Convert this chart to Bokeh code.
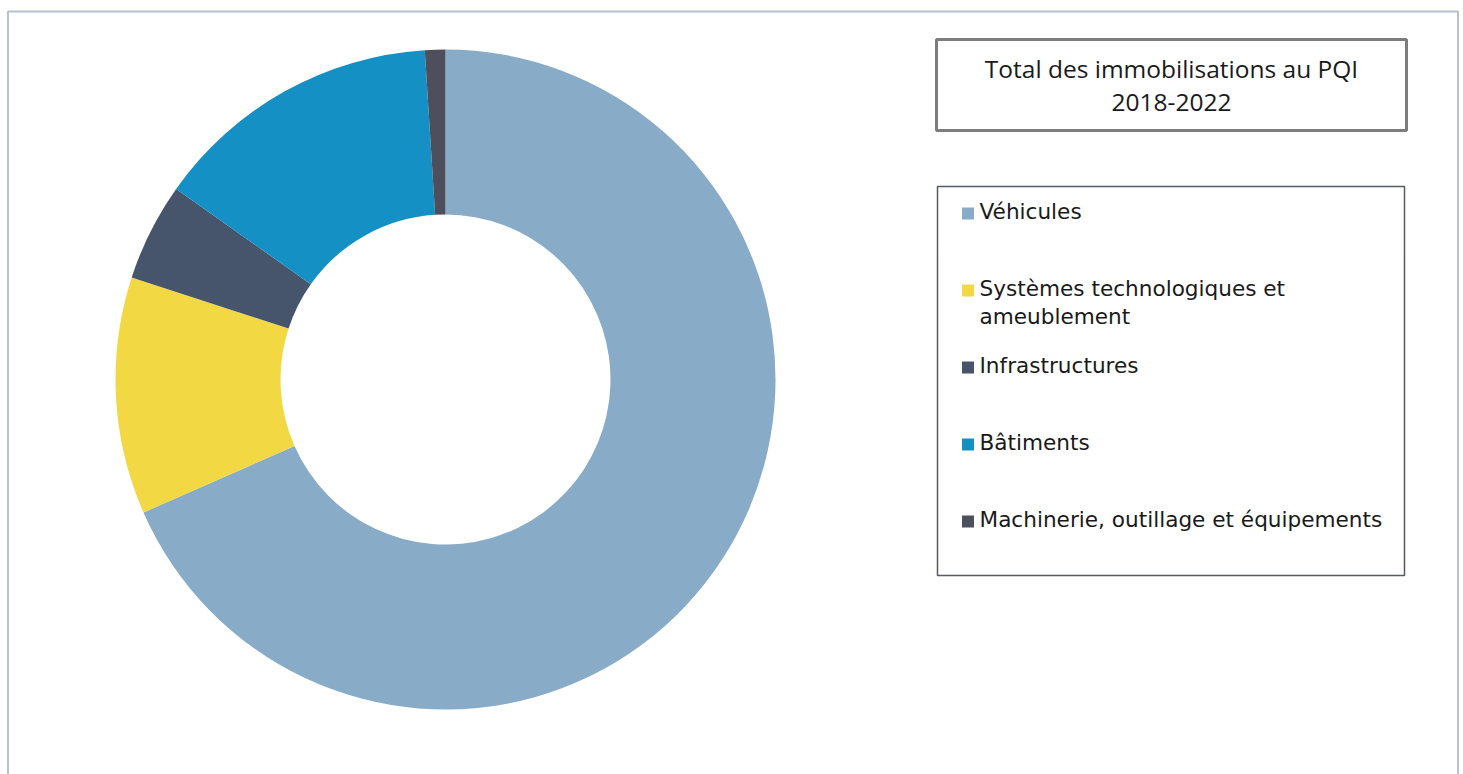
from math import pi
from bokeh.plotting import figure
from bokeh.models import Range1d, ColumnDataSource
from bokeh.core.properties import value
from bokeh.embed import file_html
from bokeh.resources import INLINE

# ---- data ----
categories = ["Véhicules", "Systèmes technologiques et ameublement", "Infrastructures",
              "Bâtiments", "Machinerie, outillage et équipements"]
legend_labels = ["Véhicules", "Systèmes technologiques et\nameublement", "Infrastructures",
                 "Bâtiments", "Machinerie, outillage et équipements"]
shares = [68.4, 11.6, 4.8, 14.2, 1.0]
colors = ["#88abc8", "#f2d944", "#46556b", "#1590c4", "#4d505c"]
title_lines = "Total des immobilisations au PQI\n2018-2022"

W, H = 1463, 774
def X(sx):  # page px -> data
    return sx
def Y(sy):
    return H - sy

p = figure(width=W, height=H, x_range=Range1d(0, W), y_range=Range1d(0, H),
           output_backend="svg", toolbar_location=None, min_border=0)
p.axis.visible = False
p.grid.visible = False
p.outline_line_color = None
p.background_fill_color = "white"

# outer frame
p.quad(left=[X(7.5)], right=[X(1457.5)], top=[Y(11)], bottom=[Y(800)],
       fill_color=None, line_color="#b9bfcc", line_width=2)

# donut
total = sum(shares)
cum = [0.0]
for s in shares:
    cum.append(cum[-1] + s)
start = [pi / 2 - 2 * pi * c / total for c in cum[:-1]]
end = [pi / 2 - 2 * pi * c / total for c in cum[1:]]
src = ColumnDataSource(dict(cat=categories, start=start, end=end, color=colors))
p.annular_wedge(x=X(445), y=Y(379), inner_radius=165, outer_radius=330,
                start_angle="start", end_angle="end", direction="clock",
                fill_color="color", line_color=None, source=src)

# title box
p.quad(left=[X(936)], right=[X(1406)], top=[Y(39)], bottom=[Y(130)],
       fill_color="white", line_color="#7d7d7d", line_width=3)
p.text(x=[X(1171)], y=[Y(84)], text=[title_lines], text_align="center",
       text_baseline="middle", text_font=value("Open Sans"), text_font_size="24.5px",
       text_color="#1a1a1a", text_line_height=1.0)

# legend box
p.quad(left=[X(937)], right=[X(1404)], top=[Y(186)], bottom=[Y(575)],
       fill_color="white", line_color="#555a63", line_width=1.5)
item_y = [Y(213 + 77 * i) for i in range(len(categories))]
p.rect(x=[X(967.5)] * len(categories), y=item_y, width=12, height=12,
       fill_color=colors, line_color=None)
p.text(x=[X(979)] * len(categories), y=[v + 15 for v in item_y], text=legend_labels,
       text_align="left", text_baseline="top", text_font=value("DejaVu Sans"),
       text_font_size="21.6px", text_color="#1a1a1a", text_line_height=1.15)

open("out.html", "w").write(file_html(p, INLINE))
